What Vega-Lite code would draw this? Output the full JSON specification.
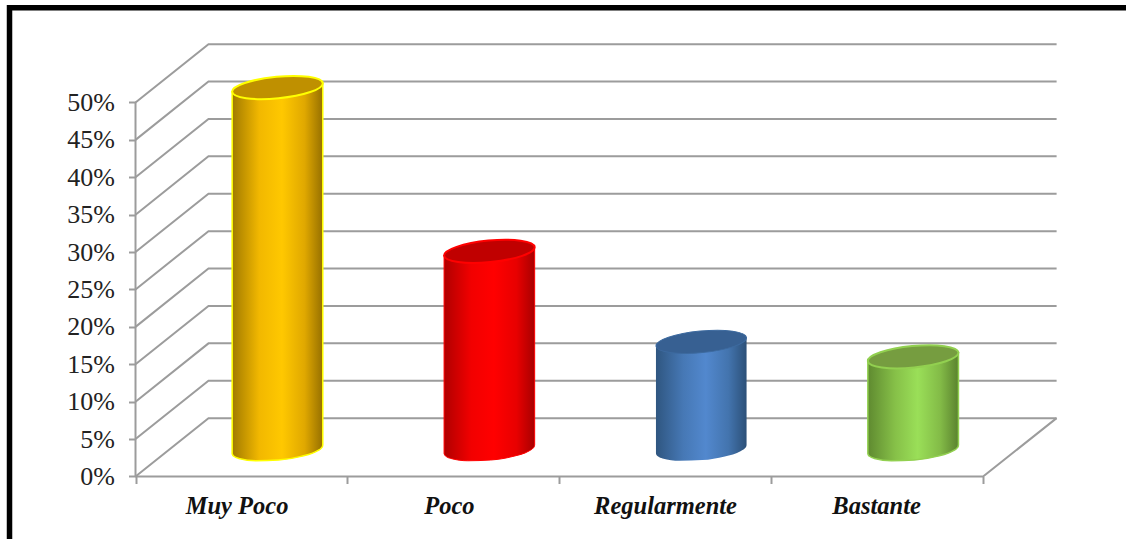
{
  "$schema": "https://vega.github.io/schema/vega-lite/v6.json",
  "width": 1126,
  "height": 539,
  "autosize": "none",
  "padding": 0,
  "background": "white",
  "config": {"view": {"stroke": null}},
  "datasets": {
    "marco": [
      {"tramo": "marco", "orden": 1, "x": -0.5946, "y": -8.356},
      {"tramo": "marco", "orden": 2, "x": -0.5946, "y": 62.67},
      {"tramo": "marco", "orden": 3, "x": 4.6745, "y": 62.67}
    ],
    "rejilla": [
      {"tramo": "eje y", "orden": 1, "x": 0, "y": 0},
      {"tramo": "eje y", "orden": 2, "x": 0, "y": 50},
      {"tramo": "suelo", "orden": 1, "x": 0, "y": 0},
      {"tramo": "suelo", "orden": 2, "x": 4, "y": 0},
      {"tramo": "suelo", "orden": 3, "x": 4.347, "y": 7.8},
      {"tramo": "n0", "orden": 1, "x": 0, "y": 0},
      {"tramo": "n0", "orden": 2, "x": 0.3445, "y": 7.8},
      {"tramo": "n0", "orden": 3, "x": 4.347, "y": 7.8},
      {"tramo": "n5", "orden": 1, "x": 0, "y": 5},
      {"tramo": "n5", "orden": 2, "x": 0.3445, "y": 12.8},
      {"tramo": "n5", "orden": 3, "x": 4.347, "y": 12.8},
      {"tramo": "n10", "orden": 1, "x": 0, "y": 10},
      {"tramo": "n10", "orden": 2, "x": 0.3445, "y": 17.8},
      {"tramo": "n10", "orden": 3, "x": 4.347, "y": 17.8},
      {"tramo": "n15", "orden": 1, "x": 0, "y": 15},
      {"tramo": "n15", "orden": 2, "x": 0.3445, "y": 22.8},
      {"tramo": "n15", "orden": 3, "x": 4.347, "y": 22.8},
      {"tramo": "n20", "orden": 1, "x": 0, "y": 20},
      {"tramo": "n20", "orden": 2, "x": 0.3445, "y": 27.8},
      {"tramo": "n20", "orden": 3, "x": 4.347, "y": 27.8},
      {"tramo": "n25", "orden": 1, "x": 0, "y": 25},
      {"tramo": "n25", "orden": 2, "x": 0.3445, "y": 32.8},
      {"tramo": "n25", "orden": 3, "x": 4.347, "y": 32.8},
      {"tramo": "n30", "orden": 1, "x": 0, "y": 30},
      {"tramo": "n30", "orden": 2, "x": 0.3445, "y": 37.8},
      {"tramo": "n30", "orden": 3, "x": 4.347, "y": 37.8},
      {"tramo": "n35", "orden": 1, "x": 0, "y": 35},
      {"tramo": "n35", "orden": 2, "x": 0.3445, "y": 42.8},
      {"tramo": "n35", "orden": 3, "x": 4.347, "y": 42.8},
      {"tramo": "n40", "orden": 1, "x": 0, "y": 40},
      {"tramo": "n40", "orden": 2, "x": 0.3445, "y": 47.8},
      {"tramo": "n40", "orden": 3, "x": 4.347, "y": 47.8},
      {"tramo": "n45", "orden": 1, "x": 0, "y": 45},
      {"tramo": "n45", "orden": 2, "x": 0.3445, "y": 52.8},
      {"tramo": "n45", "orden": 3, "x": 4.347, "y": 52.8},
      {"tramo": "n50", "orden": 1, "x": 0, "y": 50},
      {"tramo": "n50", "orden": 2, "x": 0.3445, "y": 57.8},
      {"tramo": "n50", "orden": 3, "x": 4.347, "y": 57.8}
    ],
    "cuerpos": [
      {"categoria": "Muy Poco", "x": 0.4562, "y": 51.45, "y2": 3.057},
      {"categoria": "Muy Poco", "x": 0.459, "y": 51.46, "y2": 2.863},
      {"categoria": "Muy Poco", "x": 0.4648, "y": 51.47, "y2": 2.704},
      {"categoria": "Muy Poco", "x": 0.4874, "y": 51.53, "y2": 2.417},
      {"categoria": "Muy Poco", "x": 0.5674, "y": 51.74, "y2": 2.104},
      {"categoria": "Muy Poco", "x": 0.6749, "y": 52.02, "y2": 2.203},
      {"categoria": "Muy Poco", "x": 0.7811, "y": 52.29, "y2": 2.687},
      {"categoria": "Muy Poco", "x": 0.8575, "y": 52.48, "y2": 3.425},
      {"categoria": "Muy Poco", "x": 0.8777, "y": 52.54, "y2": 3.83},
      {"categoria": "Muy Poco", "x": 0.8823, "y": 52.55, "y2": 4.018},
      {"categoria": "Muy Poco", "x": 0.8838, "y": 52.55, "y2": 4.223},
      {"categoria": "Poco", "x": 1.4562, "y": 29.55, "y2": 3.057},
      {"categoria": "Poco", "x": 1.459, "y": 29.56, "y2": 2.863},
      {"categoria": "Poco", "x": 1.4648, "y": 29.57, "y2": 2.704},
      {"categoria": "Poco", "x": 1.4874, "y": 29.63, "y2": 2.417},
      {"categoria": "Poco", "x": 1.5674, "y": 29.84, "y2": 2.104},
      {"categoria": "Poco", "x": 1.6749, "y": 30.12, "y2": 2.203},
      {"categoria": "Poco", "x": 1.7811, "y": 30.39, "y2": 2.687},
      {"categoria": "Poco", "x": 1.8575, "y": 30.58, "y2": 3.425},
      {"categoria": "Poco", "x": 1.8777, "y": 30.64, "y2": 3.83},
      {"categoria": "Poco", "x": 1.8823, "y": 30.65, "y2": 4.018},
      {"categoria": "Poco", "x": 1.8838, "y": 30.65, "y2": 4.223},
      {"categoria": "Regularmente", "x": 2.4562, "y": 17.45, "y2": 3.057},
      {"categoria": "Regularmente", "x": 2.459, "y": 17.46, "y2": 2.863},
      {"categoria": "Regularmente", "x": 2.4648, "y": 17.47, "y2": 2.704},
      {"categoria": "Regularmente", "x": 2.4874, "y": 17.53, "y2": 2.417},
      {"categoria": "Regularmente", "x": 2.5674, "y": 17.74, "y2": 2.104},
      {"categoria": "Regularmente", "x": 2.6749, "y": 18.02, "y2": 2.203},
      {"categoria": "Regularmente", "x": 2.7811, "y": 18.29, "y2": 2.687},
      {"categoria": "Regularmente", "x": 2.8575, "y": 18.48, "y2": 3.425},
      {"categoria": "Regularmente", "x": 2.8777, "y": 18.54, "y2": 3.83},
      {"categoria": "Regularmente", "x": 2.8823, "y": 18.55, "y2": 4.018},
      {"categoria": "Regularmente", "x": 2.8838, "y": 18.55, "y2": 4.223},
      {"categoria": "Bastante", "x": 3.4562, "y": 15.45, "y2": 3.057},
      {"categoria": "Bastante", "x": 3.459, "y": 15.46, "y2": 2.863},
      {"categoria": "Bastante", "x": 3.4648, "y": 15.47, "y2": 2.704},
      {"categoria": "Bastante", "x": 3.4874, "y": 15.53, "y2": 2.417},
      {"categoria": "Bastante", "x": 3.5674, "y": 15.74, "y2": 2.104},
      {"categoria": "Bastante", "x": 3.6749, "y": 16.02, "y2": 2.203},
      {"categoria": "Bastante", "x": 3.7811, "y": 16.29, "y2": 2.687},
      {"categoria": "Bastante", "x": 3.8575, "y": 16.48, "y2": 3.425},
      {"categoria": "Bastante", "x": 3.8777, "y": 16.54, "y2": 3.83},
      {"categoria": "Bastante", "x": 3.8823, "y": 16.55, "y2": 4.018},
      {"categoria": "Bastante", "x": 3.8838, "y": 16.55, "y2": 4.223}
    ],
    "tapas": [
      {"categoria": "Muy Poco", "x": 0.67, "y": 52},
      {"categoria": "Poco", "x": 1.67, "y": 30.1},
      {"categoria": "Regularmente", "x": 2.67, "y": 18},
      {"categoria": "Bastante", "x": 3.67, "y": 16}
    ]
  },
  "encoding": {
    "x": {
      "field": "x",
      "type": "quantitative",
      "scale": {"domain": [-0.6395, 4.6745], "nice": false, "zero": false},
      "axis": {
        "title": null,
        "offset": -62.5,
        "grid": false,
        "domain": false,
        "values": [0, 0.477, 1, 1.479, 2, 2.499, 3, 3.495, 4],
        "tickSize": 7,
        "tickWidth": 2,
        "tickColor": {"condition": {"test": "datum.value % 1 !== 0", "value": "transparent"}, "value": "#9c9c9c"},
        "labelExpr": "datum.value == 0.477 ? 'Muy Poco' : datum.value == 1.479 ? 'Poco' : datum.value == 2.499 ? 'Regularmente' : datum.value == 3.495 ? 'Bastante' : ''",
        "labelFont": "Liberation Serif",
        "labelFontStyle": "italic",
        "labelFontWeight": "bold",
        "labelFontSize": 24.5,
        "labelColor": "#111111",
        "labelPadding": 11,
        "labelOverlap": false,
        "labelFlush": false
      }
    },
    "y": {
      "field": "y",
      "type": "quantitative",
      "scale": {"domain": [-8.356, 63.7], "nice": false, "zero": false},
      "axis": {
        "title": null,
        "offset": -135.5,
        "grid": false,
        "domain": false,
        "values": [0, 5, 10, 15, 20, 25, 30, 35, 40, 45, 50],
        "tickSize": 7,
        "tickWidth": 2,
        "tickColor": "#9c9c9c",
        "labelExpr": "datum.value + '%'",
        "labelFont": "Liberation Serif",
        "labelFontSize": 26,
        "labelColor": "#222222",
        "labelPadding": 14,
        "labelOverlap": false
      }
    }
  },
  "layer": [
    {
      "data": {"name": "marco"},
      "mark": {"type": "line", "color": "black", "strokeWidth": 5.5, "strokeCap": "square"},
      "encoding": {"detail": {"field": "tramo"}, "order": {"field": "orden"}}
    },
    {
      "data": {"name": "rejilla"},
      "mark": {"type": "line", "color": "#9c9c9c", "strokeWidth": 2},
      "encoding": {"detail": {"field": "tramo"}, "order": {"field": "orden"}}
    },
    {
      "data": {"name": "cuerpos"},
      "transform": [{"filter": "datum.categoria === 'Muy Poco'"}],
      "mark": {
        "type": "area",
        "interpolate": "monotone",
        "stroke": "#ffff00",
        "strokeWidth": 1.5,
        "fill": {
          "x1": 0, "y1": 0, "x2": 1, "y2": 0, "gradient": "linear",
          "stops": [
            {"offset": 0, "color": "#a17a00"},
            {"offset": 0.3, "color": "#f2b800"},
            {"offset": 0.55, "color": "#ffc800"},
            {"offset": 0.8, "color": "#e0a800"},
            {"offset": 1, "color": "#967000"}
          ]
        }
      },
      "encoding": {"y2": {"field": "y2"}}
    },
    {
      "data": {"name": "cuerpos"},
      "transform": [{"filter": "datum.categoria === 'Poco'"}],
      "mark": {
        "type": "area",
        "interpolate": "monotone",
        "stroke": "#ff0000",
        "strokeWidth": 1,
        "fill": {
          "x1": 0, "y1": 0, "x2": 1, "y2": 0, "gradient": "linear",
          "stops": [
            {"offset": 0, "color": "#b00000"},
            {"offset": 0.3, "color": "#f20000"},
            {"offset": 0.55, "color": "#ff0000"},
            {"offset": 0.8, "color": "#e80000"},
            {"offset": 1, "color": "#a80000"}
          ]
        }
      },
      "encoding": {"y2": {"field": "y2"}}
    },
    {
      "data": {"name": "cuerpos"},
      "transform": [{"filter": "datum.categoria === 'Regularmente'"}],
      "mark": {
        "type": "area",
        "interpolate": "monotone",
        "fill": {
          "x1": 0, "y1": 0, "x2": 1, "y2": 0, "gradient": "linear",
          "stops": [
            {"offset": 0, "color": "#2f5680"},
            {"offset": 0.3, "color": "#4678b5"},
            {"offset": 0.55, "color": "#5288ce"},
            {"offset": 0.8, "color": "#4374ae"},
            {"offset": 1, "color": "#2c5078"}
          ]
        }
      },
      "encoding": {"y2": {"field": "y2"}}
    },
    {
      "data": {"name": "cuerpos"},
      "transform": [{"filter": "datum.categoria === 'Bastante'"}],
      "mark": {
        "type": "area",
        "interpolate": "monotone",
        "stroke": "#92d050",
        "strokeWidth": 1.5,
        "fill": {
          "x1": 0, "y1": 0, "x2": 1, "y2": 0, "gradient": "linear",
          "stops": [
            {"offset": 0, "color": "#5f8a30"},
            {"offset": 0.3, "color": "#86c048"},
            {"offset": 0.55, "color": "#9adf58"},
            {"offset": 0.8, "color": "#83bb47"},
            {"offset": 1, "color": "#5a822e"}
          ]
        }
      },
      "encoding": {"y2": {"field": "y2"}}
    },
    {
      "data": {"name": "tapas"},
      "transform": [{"filter": "datum.categoria === 'Muy Poco'"}],
      "mark": {
        "type": "point", "filled": true, "opacity": 1, "angle": -5.5, "size": 8281,
        "shape": "M-1,0C-1,-0.1309,-0.5523,-0.237,0,-0.237C0.5523,-0.237,1,-0.1309,1,0C1,0.1309,0.5523,0.237,0,0.237C-0.5523,0.237,-1,0.1309,-1,0Z",
        "fill": "#bf9000", "stroke": "#ffff00", "strokeWidth": 2
      }
    },
    {
      "data": {"name": "tapas"},
      "transform": [{"filter": "datum.categoria === 'Poco'"}],
      "mark": {
        "type": "point", "filled": true, "opacity": 1, "angle": -5.5, "size": 8281,
        "shape": "M-1,0C-1,-0.1309,-0.5523,-0.237,0,-0.237C0.5523,-0.237,1,-0.1309,1,0C1,0.1309,0.5523,0.237,0,0.237C-0.5523,0.237,-1,0.1309,-1,0Z",
        "fill": "#c00000", "stroke": "#ff0000", "strokeWidth": 2
      }
    },
    {
      "data": {"name": "tapas"},
      "transform": [{"filter": "datum.categoria === 'Regularmente'"}],
      "mark": {
        "type": "point", "filled": true, "opacity": 1, "angle": -5.5, "size": 8281,
        "shape": "M-1,0C-1,-0.1309,-0.5523,-0.237,0,-0.237C0.5523,-0.237,1,-0.1309,1,0C1,0.1309,0.5523,0.237,0,0.237C-0.5523,0.237,-1,0.1309,-1,0Z",
        "fill": "#376092", "stroke": "#3d6a9f", "strokeWidth": 1
      }
    },
    {
      "data": {"name": "tapas"},
      "transform": [{"filter": "datum.categoria === 'Bastante'"}],
      "mark": {
        "type": "point", "filled": true, "opacity": 1, "angle": -5.5, "size": 8281,
        "shape": "M-1,0C-1,-0.1309,-0.5523,-0.237,0,-0.237C0.5523,-0.237,1,-0.1309,1,0C1,0.1309,0.5523,0.237,0,0.237C-0.5523,0.237,-1,0.1309,-1,0Z",
        "fill": "#769d40", "stroke": "#92d050", "strokeWidth": 2
      }
    }
  ]
}
